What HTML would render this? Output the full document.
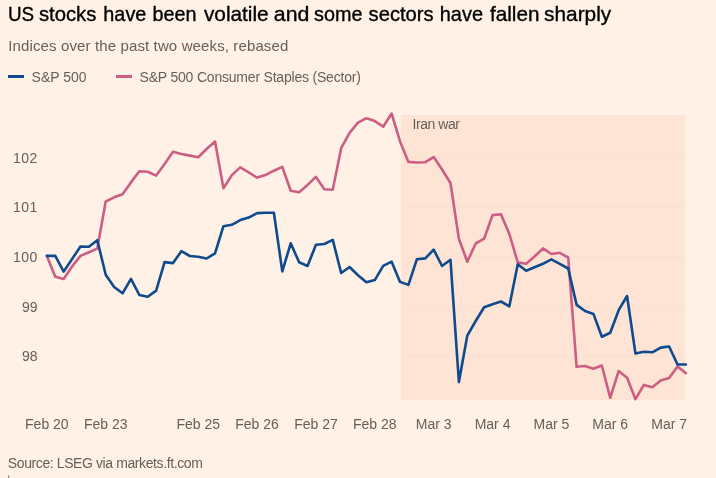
<!DOCTYPE html>
<html><head><meta charset="utf-8"><style>
html,body{margin:0;padding:0;background:#fff1e5;}
svg{display:block;will-change:transform}
text{font-family:"Liberation Sans",sans-serif;}
.t{font-size:20.6px;fill:#000;stroke:#000;stroke-width:0.35px;}
.sub{font-size:15px;fill:#66605c;}
.s{font-size:14px;fill:#66605c;}
</style></head><body>
<svg width="716" height="478" viewBox="0 0 716 478">
<rect x="0" y="0" width="716" height="478" fill="#fff1e5"/>
<rect x="401" y="115" width="284" height="285" fill="#fde4d4"/>
<rect x="401" y="157.5" width="284" height="1" fill="#7a5a40" fill-opacity="0.03"/>
<rect x="401" y="206.7" width="284" height="1" fill="#7a5a40" fill-opacity="0.03"/>
<rect x="401" y="256.7" width="284" height="1" fill="#7a5a40" fill-opacity="0.03"/>
<rect x="401" y="306.3" width="284" height="1" fill="#7a5a40" fill-opacity="0.03"/>
<rect x="401" y="355.7" width="284" height="1" fill="#7a5a40" fill-opacity="0.03"/>
<text x="13.0" y="162.9" class="s" textLength="24.4" lengthAdjust="spacing">102</text>
<text x="13.0" y="212.1" class="s" textLength="24.4" lengthAdjust="spacing">101</text>
<text x="13.0" y="262.1" class="s" textLength="24.4" lengthAdjust="spacing">100</text>
<text x="37.6" y="311.7" text-anchor="end" class="s">99</text>
<text x="37.6" y="361.1" text-anchor="end" class="s">98</text>
<text x="46.85" y="428.9" text-anchor="middle" class="s">Feb 20</text>
<text x="105.71" y="428.9" text-anchor="middle" class="s">Feb 23</text>
<text x="198.21" y="428.9" text-anchor="middle" class="s">Feb 25</text>
<text x="257.08" y="428.9" text-anchor="middle" class="s">Feb 26</text>
<text x="315.94" y="428.9" text-anchor="middle" class="s">Feb 27</text>
<text x="374.80" y="428.9" text-anchor="middle" class="s">Feb 28</text>
<text x="433.66" y="428.9" text-anchor="middle" class="s">Mar 3</text>
<text x="492.53" y="428.9" text-anchor="middle" class="s">Mar 4</text>
<text x="551.39" y="428.9" text-anchor="middle" class="s">Mar 5</text>
<text x="610.25" y="428.9" text-anchor="middle" class="s">Mar 6</text>
<text x="669.12" y="428.9" text-anchor="middle" class="s">Mar 7</text>
<text x="412.5" y="128.8" class="s" textLength="47.5" lengthAdjust="spacing">Iran war</text>
<polyline points="46.85,256.00 55.26,276.80 63.67,278.90 72.08,266.40 80.49,255.90 88.90,252.20 97.30,248.60 105.71,201.50 114.12,197.30 122.53,194.20 130.94,182.40 139.35,171.20 147.76,171.80 156.17,175.60 164.58,164.00 172.99,151.70 181.39,154.00 189.80,155.60 198.21,157.20 206.62,149.00 215.03,141.60 223.44,188.20 231.85,175.10 240.26,167.40 248.67,172.40 257.08,177.60 265.48,175.10 273.89,170.70 282.30,166.90 290.71,190.80 299.12,192.20 307.53,184.90 315.94,176.90 324.35,189.30 332.76,189.70 341.17,148.20 349.57,132.80 357.98,122.60 366.39,118.20 374.80,121.10 383.21,126.70 391.62,113.50 400.03,141.40 408.44,161.90 416.85,162.50 425.26,162.20 433.66,157.10 442.07,169.50 450.48,183.00 458.89,238.70 467.30,261.70 475.71,243.50 484.12,238.70 492.53,215.10 500.94,214.30 509.35,234.00 517.75,262.40 526.16,263.80 534.57,256.50 542.98,248.40 551.39,254.00 559.80,252.80 568.21,257.50 576.62,366.80 585.03,366.00 593.44,368.80 601.84,365.50 610.25,397.80 618.66,371.00 627.07,377.80 635.48,399.20 643.89,384.90 652.30,387.30 660.71,380.50 669.12,377.90 677.53,366.40 685.93,373.20" fill="none" stroke="#cc5e84" stroke-width="2.6" stroke-linejoin="round" stroke-linecap="round"/>
<polyline points="46.85,255.90 55.26,255.90 63.67,271.60 72.08,259.00 80.49,246.50 88.90,246.70 97.30,240.20 105.71,274.80 114.12,287.00 122.53,293.30 130.94,278.90 139.35,295.00 147.76,296.80 156.17,290.60 164.58,262.10 172.99,263.10 181.39,251.20 189.80,256.00 198.21,256.80 206.62,258.50 215.03,253.30 223.44,226.20 231.85,224.80 240.26,220.10 248.67,217.60 257.08,213.10 265.48,212.80 273.89,212.80 282.30,271.40 290.71,243.30 299.12,262.30 307.53,266.00 315.94,244.80 324.35,244.00 332.76,239.90 341.17,273.00 349.57,267.00 357.98,275.30 366.39,282.20 374.80,280.10 383.21,265.80 391.62,261.70 400.03,281.90 408.44,284.90 416.85,259.30 425.26,258.40 433.66,249.70 442.07,266.00 450.48,259.80 458.89,382.00 467.30,335.60 475.71,321.00 484.12,307.20 492.53,304.20 500.94,301.50 509.35,306.30 517.75,264.30 526.16,270.70 534.57,267.20 542.98,263.80 551.39,259.40 559.80,263.80 568.21,268.50 576.62,304.90 585.03,311.00 593.44,313.90 601.84,336.70 610.25,332.80 618.66,310.20 627.07,296.00 635.48,353.60 643.89,351.70 652.30,352.30 660.71,347.60 669.12,346.50 677.53,364.50 685.93,364.50" fill="none" stroke="#0f4a8e" stroke-width="2.6" stroke-linejoin="round" stroke-linecap="round"/>
<text x="7.89" y="20.9" class="t" textLength="26.17" lengthAdjust="spacingAndGlyphs">US</text>
<text x="38.92" y="20.9" class="t" textLength="57.45" lengthAdjust="spacingAndGlyphs">stocks</text>
<text x="103.34" y="20.9" class="t" textLength="43.01" lengthAdjust="spacingAndGlyphs">have</text>
<text x="152.44" y="20.9" class="t" textLength="44.06" lengthAdjust="spacingAndGlyphs">been</text>
<text x="203.90" y="20.9" class="t" textLength="64.82" lengthAdjust="spacingAndGlyphs">volatile</text>
<text x="273.87" y="20.9" class="t" textLength="35.56" lengthAdjust="spacingAndGlyphs">and</text>
<text x="314.04" y="20.9" class="t" textLength="48.51" lengthAdjust="spacingAndGlyphs">some</text>
<text x="368.62" y="20.9" class="t" textLength="65.06" lengthAdjust="spacingAndGlyphs">sectors</text>
<text x="439.73" y="20.9" class="t" textLength="43.32" lengthAdjust="spacingAndGlyphs">have</text>
<text x="490.00" y="20.9" class="t" textLength="49.44" lengthAdjust="spacingAndGlyphs">fallen</text>
<text x="544.09" y="20.9" class="t" textLength="67.11" lengthAdjust="spacingAndGlyphs">sharply</text>
<text x="8.3" y="50.7" class="sub" textLength="280" lengthAdjust="spacing">Indices over the past two weeks, rebased</text>
<rect x="8" y="75" width="16" height="3" fill="#0f4a8e"/>
<text x="31.6" y="81.9" class="s">S&amp;P 500</text>
<rect x="116" y="75" width="16" height="3" fill="#cc5e84"/>
<text x="139.6" y="81.9" class="s" textLength="221.3" lengthAdjust="spacing">S&amp;P 500 Consumer Staples (Sector)</text>
<rect x="8" y="475.5" width="1.2" height="2.5" fill="#8a817b"/>
<text x="7.8" y="467.6" class="s" textLength="195" lengthAdjust="spacing">Source: LSEG via markets.ft.com</text>
</svg>
</body></html>
